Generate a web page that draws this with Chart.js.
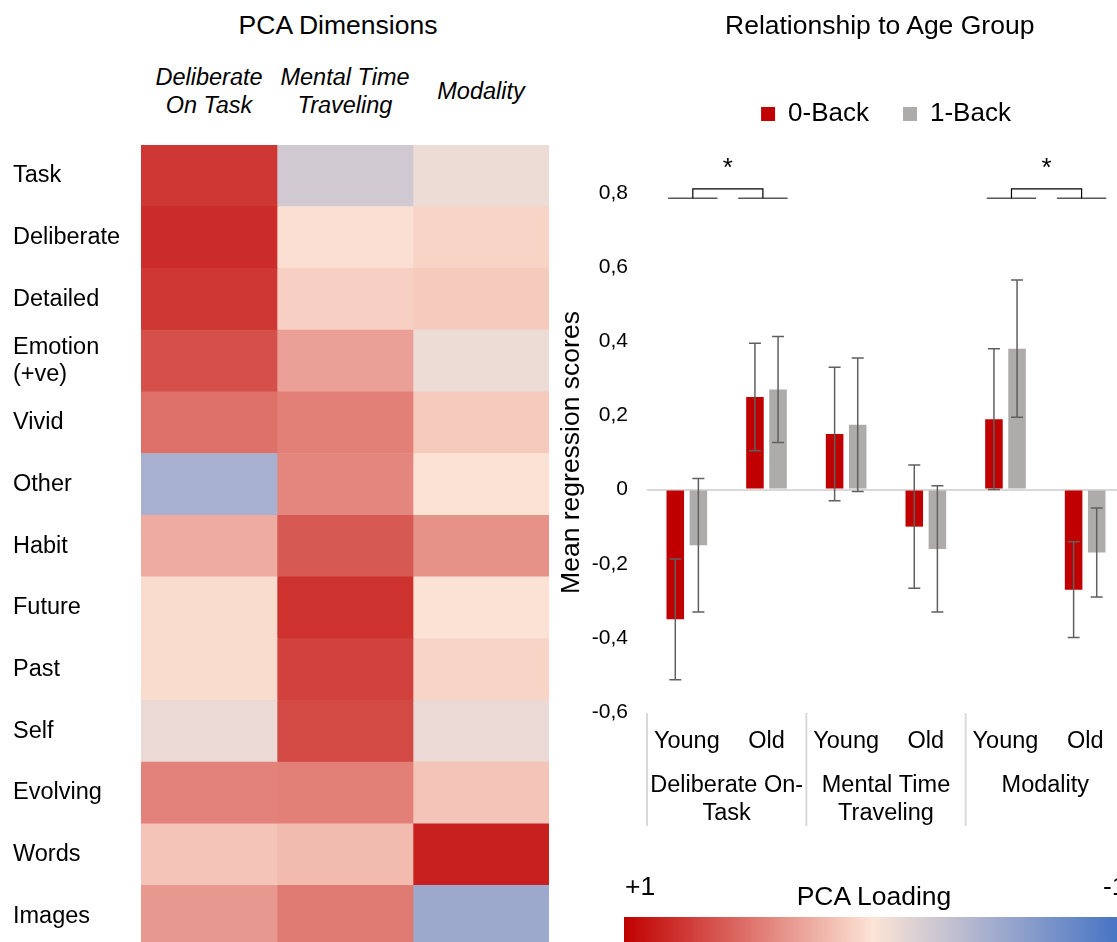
<!DOCTYPE html>
<html>
<head>
<meta charset="utf-8">
<script src="https://cdn.jsdelivr.net/npm/chart.js@4.4.0/dist/chart.umd.min.js"></script>
<style>
    html, body { margin: 0; padding: 0; background: #ffffff; }
    body {
        width: 1117px; height: 942px; overflow: hidden; position: relative;
        font-family: "Liberation Sans", Arial, sans-serif; color: #000000;
    }
    .label {
        position: absolute; white-space: nowrap; text-align: center;
        height: 30px; line-height: 30px;
    }
    .title { font-size: 26.5px; }
    .dim { font-size: 23.5px; font-style: italic; }
    #heat-wrap { position: absolute; left: 0; top: 0; width: 560px; height: 964px; }
    #bars-wrap { position: absolute; left: 540px; top: 0; width: 640px; height: 942px; }
    #colorbar { position: absolute; left: 624px; top: 917px; width: 498px; height: 30px; }
</style>
</head>
<body>

<div class="label title" style="left:188px; top:10px; width:300px;">PCA Dimensions</div>
<div class="label dim" style="left:109px; top:62px; width:200px;">Deliberate</div>
<div class="label dim" style="left:109px; top:90px; width:200px;">On Task</div>
<div class="label dim" style="left:245px; top:62px; width:200px;">Mental Time</div>
<div class="label dim" style="left:245px; top:90px; width:200px;">Traveling</div>
<div class="label dim" style="left:381px; top:76px; width:200px;">Modality</div>

<div id="heat-wrap"><canvas id="heatmap" width="560" height="964"></canvas></div>
<div id="bars-wrap"><canvas id="age-chart" width="640" height="942"></canvas></div>

<div class="label title" style="left:725px; top:10px; width:300px;">Relationship to Age Group</div>

<div class="label title" style="left:625px; top:871px; width:auto; text-align:left;">+1</div>
<div class="label title" style="left:724px; top:881px; width:300px;">PCA Loading</div>
<div class="label title" style="left:1103px; top:871px; width:auto; text-align:left;">-1</div>
<div id="colorbar"></div>

<script>
// PCA loadings (heatmap)
const dimensions = ['Deliberate On Task', 'Mental Time Traveling', 'Modality'];
const items = ['Task', 'Deliberate', 'Detailed', ['Emotion', '(+ve)'], 'Vivid', 'Other', 'Habit',
    'Future', 'Past', 'Self', 'Evolving', 'Words', 'Images'];
const deliberateLoadings = [0.76, 0.81, 0.76, 0.65, 0.50, -0.46, 0.25, 0.035, 0.035, -0.10, 0.43, 0.14, 0.33];
const mentalTimeLoadings = [-0.24, 0.02, 0.09, 0.30, 0.44, 0.41, 0.61, 0.78, 0.71, 0.68, 0.44, 0.18, 0.46];
const modalityLoadings = [-0.08, 0.07, 0.11, -0.08, 0.12, 0.01, 0.36, 0.01, 0.07, -0.10, 0.14, 0.86, -0.52];

// Regression scores by age group
const ageGroups = ['Young', 'Old', 'Young', 'Old', 'Young', 'Old'];
const componentGroups = [['Deliberate On-', 'Task'], ['Mental Time', 'Traveling'], 'Modality'];
const zeroBackMeans = [-0.35, 0.25, 0.15, -0.10, 0.19, -0.27];
const zeroBackErrors = [0.163, 0.145, 0.18, 0.166, 0.19, 0.129];
const oneBackMeans = [-0.15, 0.27, 0.175, -0.16, 0.38, -0.17];
const oneBackErrors = [0.18, 0.143, 0.18, 0.17, 0.185, 0.12];
const significantPairs = [[0, 1], [4, 5]];
const bracketLevel = 0.786;

const FONT = '"Liberation Sans", Arial, sans-serif';
const redEnd = [192, 0, 0];
const midColor = [252, 228, 214];
const blueEnd = [68, 114, 196];

const loadingColor = (value) => {
    const end = value >= 0 ? redEnd : blueEnd;
    const t = Math.min(Math.abs(value), 1);
    const c = midColor.map((m, k) => Math.round(m + (end[k] - m) * t));
    return `rgb(${c.join(',')})`;
};

document.getElementById('colorbar').style.background =
    `linear-gradient(to right, rgb(${redEnd}), rgb(${midColor}), rgb(${blueEnd}))`;

const renderHeatmap = () => {
    const ctx = document.getElementById('heatmap').getContext('2d');
    const loadings = [deliberateLoadings, mentalTimeLoadings, modalityLoadings];

    return new Chart(ctx, {
        type: 'bar',
        data: {
            labels: items,
            datasets: dimensions.map((name, i) => ({
                label: name,
                data: items.map(() => 1),
                backgroundColor: loadings[i].map(loadingColor),
                borderWidth: 0,
                barPercentage: 1,
                categoryPercentage: 1
            }))
        },
        options: {
            indexAxis: 'y',
            responsive: false,
            animation: false,
            // the last tick label needs ~17px below the plot, so bottom padding is taken from that
            layout: { padding: { left: 13, right: 11, top: 145, bottom: 0 } },
            plugins: { legend: { display: false }, tooltip: { enabled: false } },
            scales: {
                x: { stacked: true, min: 0, max: 3, display: false },
                y: {
                    stacked: true,
                    grid: { display: false, drawTicks: false },
                    border: { display: false },
                    ticks: {
                        autoSkip: false,
                        crossAlign: 'far',
                        color: '#000000',
                        font: { family: FONT, size: 23.5, lineHeight: 1.18 }
                    },
                    afterFit: (scale) => { scale.width = 128; }
                }
            }
        }
    });
};

const errorBarPlugin = {
    id: 'errorBars',
    afterDatasetsDraw(chart) {
        const { ctx, scales: { y } } = chart;
        ctx.save();
        ctx.strokeStyle = '#606060';
        ctx.lineWidth = 1.5;
        chart.data.datasets.forEach((ds, i) => {
            chart.getDatasetMeta(i).data.forEach((bar, j) => {
                const hi = y.getPixelForValue(ds.data[j] + ds.errors[j]);
                const lo = y.getPixelForValue(ds.data[j] - ds.errors[j]);
                ctx.beginPath();
                ctx.moveTo(bar.x, hi); ctx.lineTo(bar.x, lo);
                ctx.moveTo(bar.x - 6, hi); ctx.lineTo(bar.x + 6, hi);
                ctx.moveTo(bar.x - 6, lo); ctx.lineTo(bar.x + 6, lo);
                ctx.stroke();
            });
        });
        ctx.restore();
    }
};

const annotationPlugin = {
    id: 'annotations',
    afterDraw(chart) {
        const { ctx, chartArea, scales: { x, x2, y } } = chart;
        const unit = x.width / ageGroups.length;
        ctx.save();

        // group separators below the plot
        ctx.strokeStyle = '#d9d9d9';
        ctx.lineWidth = 2;
        for (let k = 0; k <= componentGroups.length; k++) {
            const px = x.left + k * (x.width / componentGroups.length);
            ctx.beginPath();
            ctx.moveTo(px, chartArea.bottom + 1);
            ctx.lineTo(px, x2.top + 56);
            ctx.stroke();
        }

        // significance brackets
        significantPairs.forEach(([a, b]) => {
            const left = x.getPixelForValue(a) + 0.075 * unit;
            const right = x.getPixelForValue(b) - 0.045 * unit;
            const half = 0.31 * unit;
            const base = y.getPixelForValue(bracketLevel);
            const top = y.getPixelForValue(bracketLevel + 0.025);
            ctx.strokeStyle = '#595959';
            ctx.lineWidth = 1.5;
            ctx.beginPath();
            ctx.moveTo(left - half, base); ctx.lineTo(left + half, base);
            ctx.moveTo(right - half, base); ctx.lineTo(right + half, base);
            ctx.stroke();
            ctx.strokeStyle = '#000000';
            ctx.lineWidth = 1.2;
            ctx.beginPath();
            ctx.moveTo(left, base); ctx.lineTo(left, top);
            ctx.lineTo(right, top); ctx.lineTo(right, base);
            ctx.stroke();
            ctx.fillStyle = '#000000';
            ctx.font = `26px ${FONT}`;
            ctx.textAlign = 'center';
            ctx.textBaseline = 'alphabetic';
            ctx.fillText('*', (left + right) / 2, top - 13);
        });
        ctx.restore();
    }
};

const renderAgeChart = () => {
    const ctx = document.getElementById('age-chart').getContext('2d');
    const tickFont = { family: FONT, size: 23.5 };

    return new Chart(ctx, {
        type: 'bar',
        data: {
            labels: ageGroups,
            datasets: [
                {
                    label: '0-Back',
                    data: zeroBackMeans,
                    errors: zeroBackErrors,
                    backgroundColor: '#c00000',
                    categoryPercentage: 0.58,
                    barPercentage: 0.76
                },
                {
                    label: '1-Back',
                    data: oneBackMeans,
                    errors: oneBackErrors,
                    backgroundColor: '#aeabab',
                    categoryPercentage: 0.58,
                    barPercentage: 0.76
                }
            ]
        },
        options: {
            responsive: false,
            animation: false,
            layout: { padding: { left: 14, right: 55, top: 67, bottom: 102 } },
            plugins: {
                legend: {
                    position: 'top',
                    fullSize: false,
                    labels: {
                        boxWidth: 14,
                        boxHeight: 14,
                        padding: 34,
                        color: '#000000',
                        font: { family: FONT, size: 26 }
                    }
                },
                tooltip: { enabled: false }
            },
            scales: {
                // empty band between legend and plot, room for the brackets
                xTop: {
                    type: 'category',
                    labels: ageGroups,
                    position: 'top',
                    grid: { display: false, drawTicks: false },
                    border: { display: false },
                    ticks: { display: false },
                    afterFit: (scale) => { scale.height = 56; }
                },
                x: {
                    grid: { display: false, drawTicks: false },
                    border: { display: false },
                    ticks: { color: '#000000', font: tickFont, padding: 15 },
                    afterFit: (scale) => { scale.height = 58; }
                },
                x2: {
                    type: 'category',
                    labels: componentGroups,
                    offset: true,
                    position: 'bottom',
                    weight: 1,
                    grid: { display: false, drawTicks: false },
                    border: { display: false },
                    ticks: { color: '#000000', font: tickFont, padding: 1 },
                    afterFit: (scale) => { scale.height = 70; }
                },
                y: {
                    min: -0.6,
                    max: 0.8,
                    border: { display: false },
                    grid: {
                        drawTicks: false,
                        lineWidth: 2,
                        color: (c) => (c.tick && Math.abs(c.tick.value) < 1e-9 ? '#d9d9d9' : 'rgba(0,0,0,0)')
                    },
                    ticks: {
                        stepSize: 0.2,
                        padding: 19,
                        color: '#000000',
                        font: { family: FONT, size: 21 },
                        callback: (value) => (Math.abs(value) < 1e-9 ? '0' : value.toFixed(1).replace('.', ','))
                    },
                    title: {
                        display: true,
                        text: 'Mean regression scores',
                        color: '#000000',
                        font: { family: FONT, size: 26.5 },
                        padding: { top: 2, bottom: 0 }
                    },
                    afterFit: (scale) => { scale.width = 93; }
                }
            }
        },
        plugins: [errorBarPlugin, annotationPlugin]
    });
};

renderHeatmap();
renderAgeChart();
</script>
</body>
</html>
